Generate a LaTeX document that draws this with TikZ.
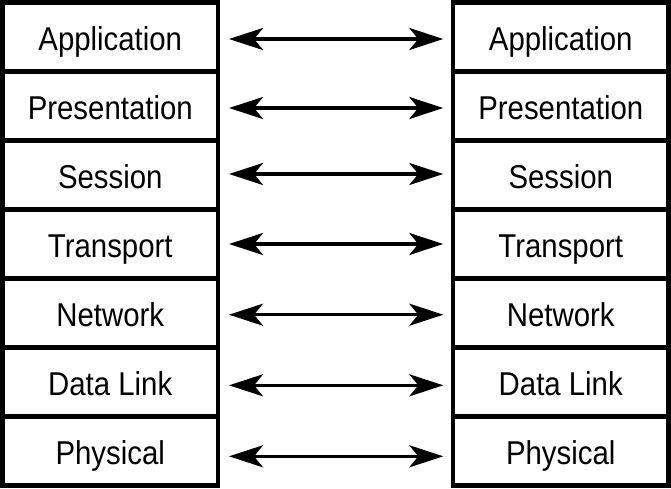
\documentclass[tikz,border=0pt]{standalone}
\usepackage{fontspec}
\setmainfont[FakeStretch=0.89]{Liberation Sans}
\usetikzlibrary{arrows.meta}
\begin{document}
\begin{tikzpicture}[x=1pt,y=-1pt,
  layer/.style={draw, line width=4.5pt, minimum width=215.5pt, minimum height=69pt,
    inner sep=0pt, outer sep=0pt, text height=26.5pt, text depth=0pt,
    font=\fontsize{33}{40}\selectfont},
  tip/.style={Stealth[length=34pt,width=22pt,inset=9pt]},
  link/.style={line width=3.5pt, {Stealth[length=34pt,width=22pt,inset=9pt]}-{Stealth[length=34pt,width=22pt,inset=9pt]}}]
\useasboundingbox (0,0) rectangle (671,488);
\fill[white] (0,0) rectangle (671,488);
\foreach \i/\t/\dy in {1/Application/-2, 2/Presentation/-2, 3/Session/1, 4/Transport/0,
    5/Network/-1.7, 6/Data Link/-3.3, 7/Physical/-5.3} {
  \node[layer] (L\i) at (110.25, {2.5+69*(\i-0.5)}) {\t};
  \node[layer] (R\i) at (560.75, {2.5+69*(\i-0.5)}) {\t};
  \draw[link] ([xshift=11pt,yshift=\dy pt]L\i.east) -- ([xshift=-9.7pt,yshift=\dy pt]R\i.west);
}
\end{tikzpicture}
\end{document}
